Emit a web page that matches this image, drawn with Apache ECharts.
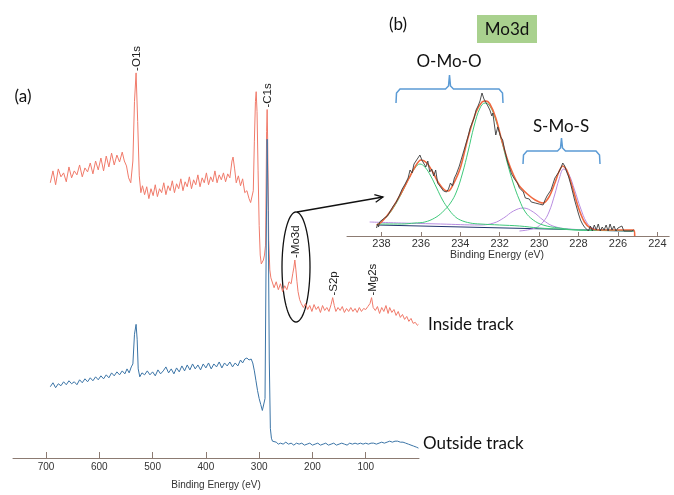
<!DOCTYPE html>
<html><head><meta charset="utf-8">
<script src="https://cdn.jsdelivr.net/npm/echarts@6/dist/echarts.min.js"></script>
<style>html,body{margin:0;padding:0;background:#fff}#c{width:674px;height:495px}</style>
</head><body><div id="c"></div>
<script>
// ---------- Survey spectrum (a) : [binding energy eV, intensity a.u.] ----------
const mainTicks = [100, 200, 300, 400, 500, 600, 700];
const insideTrack = [
[692,278],[687,290],[682,276],[677,292],[672,284],[667,288],[662,279],[657,294],[652,283],[647,290],[642,286],[637,296],[632,284],[627,293],[622,289],[617,298],[612,287],[607,300],[602,291],[597,303],[592,290],[587,305],[582,294],[577,308],[572,296],[567,306],[562,299],[557,309],[553,300],[549,295],[545,283],[541,278],[537,300],[534,360],[531,389],[528,340],[525,285],[522,268],[519,275],
[515,266],[511,274],[507,262],[503,272],[499,265],[495,276],[491,264],[487,272],[483,268],[479,278],[475,266],[471,275],[467,270],[463,280],[459,268],[455,277],[451,272],[447,282],[443,270],[439,279],[435,274],[431,284],[427,272],[423,281],[419,276],[415,286],[411,274],[407,283],[403,278],[399,288],[395,276],[391,284],[387,279],[383,290],[379,278],[375,286],[371,281],[367,288],[363,279],[359,287],[355,283],[351,300],[349,304],[346,292],[343,278],[339,285],[335,275],[331,282],[327,268],[323,270],[319,262],[316,258],[313,256],[311,270],[309,320],[307,360],[305.6,370],[304,350],[302,290],[300,235],[298,205],[296,196],[294,195],[292,200],[290,205],[288,215],[286,330],[285,352],[284,320],[282,220],[280,190],[278,182],
[276,180],[272,172],[268,178],[264,170],[260,176],[256,168],[252,174],[248,170],[244,178],[240,176],[237,186],[235,192],[233,200],[231,190],[229,178],[227,168],[224,160],[221,156],[217,152],[213,156],[209,150],[205,154],[201,148],[197,155],[193,150],[189,153],[185,147],[181,154],[177,149],[173,152],[169,148],[165,155],[162,162],[159,154],[156,148],[152,152],[148,149],[144,153],[140,147],[136,151],[132,148],[128,152],[124,148],[120,151],[116,147],[112,152],[108,148],[104,151],[100,150],[96,153],[92,156],[89,162],[86,152],[82,149],[78,153],[74,146],[70,152],[66,148],[62,154],[58,146],[55,152],[51,147],[47,150],[43,144],[39,148],[35,142],[31,145],[27,140],[23,143],[19,138],[15,141],[11,136],[7,137],[3,134],[1,135]
];
const outsideTrack = [
[692,72],[687,76],[682,71],[677,75],[672,73],[667,77],[662,74],[657,78],[652,75],[647,77],[642,74],[637,79],[632,76],[627,80],[622,77],[617,81],[612,78],[607,82],[602,79],[597,83],[592,80],[587,84],[582,81],[577,86],[572,83],[567,87],[562,84],[557,88],[552,85],[548,90],[544,86],[540,92],[537,95],[534,125],[531,135],[529,120],[527,90],[524,82],[520,86],[515,84],[510,88],[505,84],[500,87],[495,83],[490,89],[485,85],[480,88],[475,92],[470,86],[465,90],[460,85],[455,91],[450,87],[445,93],[440,88],[435,94],[430,89],[425,95],[420,90],[415,94],[410,89],[405,95],[400,91],[395,96],[390,90],[385,95],[380,92],[375,97],[370,91],[365,96],[360,93],[355,97],[350,92],[345,96],[340,93],[335,99],[331,96],[327,100],[323,101],[319,99],[315,100],[312,96],[309,88],[306,78],[303,68],[300,60],[297,54],[294,48],[291,46],[289,60],[287,200],[285,322],[283,250],[281,100],[279,30],[277,20],[275,17],[272,15],[268,16],[264,14],[260,15],[255,14],[250,16],[245,14],[240,15],[235,13],[230,15],[225,14],[220,15],[215,13],[210,14],[205,15],[200,13],[195,14],[190,15],[185,13],[180,14],[175,15],[170,13],[165,14],[160,15],[155,13],[150,14],[145,15],[140,14],[135,13],[130,15],[125,14],[120,15],[115,14],[110,15],[105,14],[100,15],[95,14],[90,15],[85,15],[80,14],[75,15],[70,16],[65,15],[60,16],[55,17],[50,16],[45,17],[40,17],[35,16],[30,16],[25,15],[20,14],[15,13],[10,12],[5,11],[1,10]
];
const peakNames = ['-O1s', '-C1s', '-Mo3d', '-S2p', '-Mg2s'];
const peakBE    = [531, 285, 232.5, 161, 88];
const peakTop   = [389, 352, 200, 162, 162];

// ---------- Mo3d high resolution (b) ----------
const insetTicks = [224, 226, 228, 230, 232, 234, 236, 238];
const mo3dRaw = [
[238.25,8],[238.2,12],[238.15,9],[238.1,14],[238.0,12],[237.85,18],[237.7,20],[237.55,25],[237.4,30],[237.25,34],[237.1,40],[236.95,47],[236.8,52],[236.65,58],[236.55,66],[236.45,63],[236.35,72],[236.25,74],[236.15,78],[236.05,81],[235.95,76],[235.85,74],[235.75,69],[235.65,75],[235.55,64],[235.45,67],[235.35,60],[235.25,66],[235.15,53],[235.0,49],[234.85,45],[234.7,44],[234.6,47],[234.5,53],[234.4,50],[234.3,58],[234.2,62],[234.05,70],[233.9,80],[233.75,90],[233.6,100],[233.5,108],[233.4,106],[233.3,118],[233.2,126],[233.1,130],[233.0,135],[232.9,143],[232.8,137],[232.7,136],[232.6,130],[232.5,126],[232.4,120],[232.35,123],[232.2,101],[232.1,109],[231.95,99],[231.85,96],[231.75,86],[231.6,74],[231.5,68],[231.4,62],[231.25,57],[231.1,53],[231.0,48],[230.9,46],[230.8,44],[230.7,38],[230.6,40],[230.5,37],[230.4,34],[230.3,36],[230.2,33],[230.1,35],[230.0,32],[229.9,34],[229.8,31],[229.7,36],[229.6,40],[229.5,38],[229.4,46],[229.3,52],[229.2,58],[229.1,61],[229.0,64],[228.9,68],[228.8,73],[228.7,70],[228.6,64],[228.5,59],[228.4,52],[228.3,44],[228.2,36],[228.1,29],[228.0,22],[227.9,16],[227.8,12],[227.7,9],[227.6,8],[227.5,5],[227.4,10],[227.3,5],[227.2,11],[227.1,6],[227.0,12],[226.9,5],[226.8,9],[226.7,6],[226.6,11],[226.5,5],[226.4,12],[226.3,6],[226.2,10],[226.1,5],[226.0,8],[225.9,6],[225.8,10],[225.7,5],[225.6,7],[225.5,5],[225.4,6],[225.3,5],[225.2,6]
];
const mo3dEnvelope = [[238.25,11],[238.0,14],[237.5,26],[237.0,43],[236.6,58],[236.3,69],[236.0,76],[235.7,73],[235.4,64],[235.1,53],[234.8,46],[234.6,45],[234.4,50],[234.0,68],[233.6,99],[233.2,124],[232.9,134],[232.7,135],[232.5,132],[232.2,118],[231.9,96],[231.6,76],[231.3,61],[231.0,50],[230.6,42],[230.2,36],[229.8,33],[229.5,39],[229.2,53],[229.0,64],[228.8,70],[228.6,66],[228.3,48],[228.0,28],[227.7,14],[227.4,8],[227.0,6],[226.0,6],[225.2,6],[225.15,0]];
const moO3_d32 = [[238.2,12],[237.8,18],[237.4,28],[237.0,42],[236.6,58],[236.3,68],[236.05,72],[235.8,69],[235.5,60],[235.2,48],[234.9,36],[234.6,27],[234.3,20],[234.0,16],[233.5,13],[233.0,12],[232.0,11],[231.0,10],[230.0,8],[229.0,7],[228.0,6],[227.0,6],[226.0,5.5],[225.2,5]];
const moO3_d52 = [[238.2,12],[237.0,12],[236.3,13],[235.8,14],[235.3,18],[234.9,24],[234.5,33],[234.2,44],[233.9,62],[233.6,85],[233.3,110],[233.0,128],[232.75,133],[232.5,130],[232.2,116],[231.9,95],[231.6,72],[231.3,52],[231.0,36],[230.7,24],[230.3,16],[229.8,11],[229.0,8],[228.0,6],[227.0,5.5],[225.2,5]];
const moS2_d32 = [[238.6,14],[237.0,13],[235.0,12],[233.0,11],[232.3,13],[231.8,18],[231.3,25],[230.8,28],[230.3,24],[229.8,16],[229.3,10],[228.5,7],[227.0,6],[225.2,5]];
const moS2_d52 = [[231.0,5],[230.2,8],[229.8,14],[229.5,24],[229.2,42],[229.0,56],[228.75,67],[228.5,62],[228.2,46],[227.9,28],[227.6,14],[227.3,8],[226.8,6],[226.0,5],[225.2,5]];
const mo3dBackground = [[238.2,11],[225.2,5]];

const axisCol = '#8c7b72';
const lbl = {fontFamily: 'Liberation Sans, Arial, sans-serif', color: '#333'};

const chart = echarts.init(document.getElementById('c'));
const line = (name, data, xi, color, w, extra) => Object.assign({
  name, type: 'line', data, xAxisIndex: xi, yAxisIndex: xi, symbol: 'none',
  lineStyle: {color, width: w}, itemStyle: {color}, silent: true, animation: false
}, extra || {});

chart.setOption({
  animation: false,
  grid: [
    {left: 13, right: 255, top: 62, bottom: 33},
    {left: 347, right: 0, top: 36, bottom: 259}
  ],
  xAxis: [
    {type: 'value', gridIndex: 0, inverse: true, min: 0, max: 762,
     axisLine: {lineStyle: {color: axisCol, width: 1}},
     axisTick: {inside: true, length: 6, customValues: mainTicks, lineStyle: {color: axisCol}},
     axisLabel: {customValues: mainTicks, margin: 4, fontSize: 10, ...lbl},
     splitLine: {show: false},
     name: 'Binding Energy (eV)', nameLocation: 'middle', nameGap: 22,
     nameTextStyle: {fontSize: 10, ...lbl}},
    {type: 'value', gridIndex: 1, inverse: true, min: 223.4, max: 239.75,
     axisLine: {lineStyle: {color: axisCol, width: 1}},
     axisTick: {inside: true, length: 4, customValues: insetTicks, lineStyle: {color: axisCol}},
     axisLabel: {customValues: insetTicks, margin: 2, fontSize: 11, ...lbl},
     splitLine: {show: false},
     name: 'Binding Energy (eV)', nameLocation: 'middle', nameGap: 14,
     nameTextStyle: {fontSize: 10.5, padding: [0, 22, 0, 0], ...lbl}}
  ],
  yAxis: [
    {type: 'value', gridIndex: 0, min: 0, max: 400, show: false},
    {type: 'value', gridIndex: 1, min: 0, max: 200, show: false}
  ],
  series: [
    line('Inside track', insideTrack, 0, '#f07a6a', 1),
    line('Outside track', outsideTrack, 0, '#3b74a6', 1),
    line('Background', mo3dBackground, 1, '#22346e', 1),
    line('MoS2 3d3/2', moS2_d32, 1, '#b88ce0', 1, {smooth: 0.4}),
    line('MoS2 3d5/2', moS2_d52, 1, '#b88ce0', 1, {smooth: 0.4}),
    line('MoO3 3d3/2', moO3_d32, 1, '#3ec87a', 1, {smooth: 0.4}),
    line('MoO3 3d5/2', moO3_d52, 1, '#3ec87a', 1, {smooth: 0.4}),
    line('Envelope', mo3dEnvelope, 1, '#f0683f', 1.6, {smooth: 0.3}),
    line('Mo3d', mo3dRaw, 1, '#3a3a3a', 0.9)
  ]
});

// ---------- annotations ----------
const g = [];
const bodyFont = 'Lato, "Open Sans", sans-serif';
peakNames.forEach((t, i) => {
  const p = chart.convertToPixel({gridIndex: 0}, [peakBE[i], peakTop[i]]);
  g.push({type: 'text', x: p[0] + 1, y: p[1] - 2, rotation: Math.PI / 2, silent: true,
    style: {text: t, font: '11.5px "Liberation Sans", Arial, sans-serif', fill: '#222',
            textAlign: 'left', textVerticalAlign: 'middle'}});
});
// ellipse around Mo3d
const ell = [];
for (let k = 0; k <= 72; k++) { const a = k / 72 * Math.PI * 2; ell.push([296 + 14 * Math.cos(a), 267 + 55 * Math.sin(a)]); }
g.push({type: 'polygon', shape: {points: ell}, style: {fill: 'none', stroke: '#111', lineWidth: 1.3}, silent: true});
// arrow
const a0 = [297, 212], a1 = [383, 197];
const ang = Math.atan2(a1[1] - a0[1], a1[0] - a0[0]);
const head = s => [a1[0] - 9 * Math.cos(ang + s), a1[1] - 9 * Math.sin(ang + s)];
g.push({type: 'line', shape: {x1: a0[0], y1: a0[1], x2: a1[0], y2: a1[1]}, style: {stroke: '#111', lineWidth: 1.3}, silent: true});
g.push({type: 'polyline', shape: {points: [head(0.45), a1, head(-0.45)]}, style: {stroke: '#111', fill: 'none', lineWidth: 1.3}, silent: true});
// braces
const brace = (x0, x1, y, yEnd, yPeak) => {
  const xm = (x0 + x1) / 2;
  return {type: 'polyline', silent: true, shape: {smooth: 0, points: [
    [x0, yEnd], [x0 + 0.5, y + 4], [x0 + 4, y], [xm - 4, y], [xm - 1, y - 3], [xm, yPeak],
    [xm + 1, y - 3], [xm + 4, y], [x1 - 4, y], [x1 - 0.5, y + 4], [x1, yEnd]]},
    style: {stroke: '#5b9bd5', fill: 'none', lineWidth: 1.5}};
};
g.push(brace(396, 503, 89, 103, 75));
g.push(brace(523, 600, 151, 164, 138));
const txt = (text, x, y, size, align) => ({type: 'text', x, y, silent: true,
  style: {text, font: size + 'px ' + bodyFont, fill: '#111', textAlign: align || 'center', textVerticalAlign: 'middle'}});
g.push(txt('O-Mo-O', 449, 62, 17));
g.push(txt('S-Mo-S', 561, 127, 17));
g.push({type: 'rect', shape: {x: 477, y: 15, width: 60, height: 28}, style: {fill: '#a9d18e'}, silent: true});
g.push(txt('Mo3d', 507, 30, 17));
g.push(txt('(b)', 398, 25, 17));
g.push(txt('(a)', 23, 97, 17));
g.push(txt('Inside track', 428, 325, 17, 'left'));
g.push(txt('Outside track', 423, 444, 17, 'left'));
chart.setOption({graphic: g});
</script>
</body></html>
